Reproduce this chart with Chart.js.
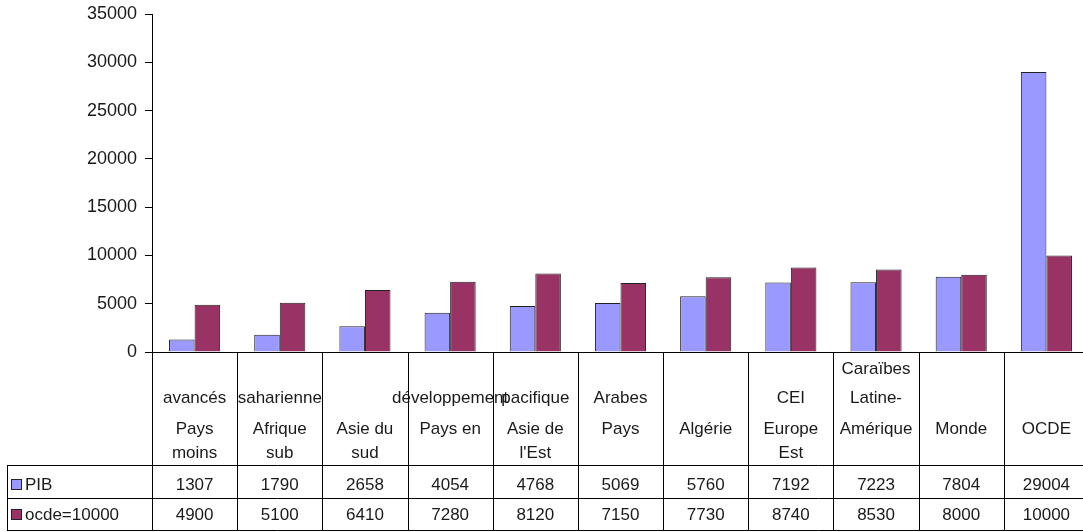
<!DOCTYPE html>
<html>
<head>
<meta charset="utf-8">
<script src="https://cdn.jsdelivr.net/npm/chart.js@4"></script>
<style>
  html, body { margin: 0; padding: 0; background: #fff; overflow: hidden; }
  #wrap { position: relative; width: 1090px; height: 532px; }
</style>
</head>
<body>
<div id="wrap"><canvas id="c"></canvas></div>
<script>
// ---- data ----
const categories = [
  "Pays moins avancés", "Afrique subsaharienne", "Asie du sud", "Pays en développement",
  "Asie de l'Est pacifique", "Pays Arabes", "Algérie", "Europe Est CEI",
  "Amérique Latine-Caraïbes", "Monde", "OCDE"
];
// label lines as displayed in the data-table header (4 text rows)
const categoryLines = [
  ["", "avancés", "Pays", "moins"],
  ["", "saharienne", "Afrique", "sub"],
  ["", "", "Asie du", "sud"],
  ["", "développement", "Pays en", ""],
  ["", "pacifique", "Asie de", "l'Est"],
  ["", "Arabes", "Pays", ""],
  ["", "", "Algérie", ""],
  ["", "CEI", "Europe", "Est"],
  ["Caraïbes", "Latine-", "Amérique", ""],
  ["", "", "Monde", ""],
  ["", "", "OCDE", ""]
];
const seriesNames = ["PIB", "ocde=10000"];
const pibValues = [1307, 1790, 2658, 4054, 4768, 5069, 5760, 7192, 7223, 7804, 29004];
const ocdeValues = [4900, 5100, 6410, 7280, 8120, 7150, 7730, 8740, 8530, 8000, 10000];
const yTicks = [0, 5000, 10000, 15000, 20000, 25000, 30000, 35000];

const colors = ["#9999FF", "#993366"];
const FAMILY = "'Liberation Sans', Arial, sans-serif";

const tablePlugin = {
  id: 'dataTable',
  afterDraw(chart) {
    const ctx = chart.ctx;
    const area = chart.chartArea;
    const n = categories.length;
    const w = (area.right - area.left) / n;
    const axisY = area.bottom;
    const row1 = axisY + 113, row2 = row1 + 33, bottom = row2 + 32;
    const tableLeft = 7;
    const lineYs = [axisY + 17, axisY + 46, axisY + 77, axisY + 101];
    ctx.save();
    ctx.strokeStyle = '#000';
    ctx.lineWidth = 1;
    ctx.beginPath();
    for (let i = 0; i <= n; i++) {
      const x = Math.round(area.left + i * w) + 0.5;
      ctx.moveTo(x, axisY);
      ctx.lineTo(x, bottom);
    }
    [row1, row2, bottom].forEach(y => {
      ctx.moveTo(tableLeft, y + 0.5);
      ctx.lineTo(area.right, y + 0.5);
    });
    ctx.moveTo(tableLeft + 0.5, row1);
    ctx.lineTo(tableLeft + 0.5, bottom);
    ctx.stroke();

    ctx.font = "17px " + FAMILY;
    ctx.fillStyle = '#1a1a1a';
    ctx.textAlign = 'center';
    ctx.textBaseline = 'middle';
    for (let i = 0; i < n; i++) {
      const cx = chart.scales.x.getPixelForValue(i);
      categoryLines[i].forEach((t, k) => { if (t) ctx.fillText(t, cx, lineYs[k]); });
      ctx.fillText(String(pibValues[i]), cx, row1 + 20);
      ctx.fillText(String(ocdeValues[i]), cx, row2 + 17);
    }
    // legend keys
    [[row1, 20], [row2, 17]].forEach(([ry, off], k) => {
      const sy = ry + off - 6;
      ctx.fillStyle = colors[k];
      ctx.fillRect(11, sy, 11, 11);
      ctx.strokeStyle = '#222';
      ctx.strokeRect(11.5, sy + 0.5, 10, 10);
      ctx.fillStyle = '#1a1a1a';
      ctx.textAlign = 'left';
      ctx.fillText(seriesNames[k], 25, ry + off);
    });
    ctx.restore();
  }
};

new Chart(document.getElementById('c'), {
  type: 'bar',
  data: {
    labels: categories,
    datasets: [
      { label: seriesNames[0], data: pibValues, backgroundColor: colors[0], borderColor: '#222', borderWidth: 1 },
      { label: seriesNames[1], data: ocdeValues, backgroundColor: colors[1], borderColor: '#222', borderWidth: 1 }
    ]
  },
  options: {
    responsive: true,
    maintainAspectRatio: false,
    animation: false,
    devicePixelRatio: 1,
    layout: { padding: { top: 14, right: 1, left: 0, bottom: 0 } },
    plugins: { legend: { display: false }, tooltip: { enabled: false } },
    datasets: { bar: { categoryPercentage: 0.6, barPercentage: 1.0 } },
    scales: {
      x: {
        grid: { display: false },
        border: { display: true, color: '#000', width: 1 },
        ticks: { display: false },
        afterFit(s) { s.height = 180; s.paddingLeft = 0; s.paddingRight = 0; }
      },
      y: {
        min: 0, max: 35000,
        afterBuildTicks(s) { s.ticks = yTicks.map(v => ({ value: v })); },
        grid: { drawOnChartArea: false, drawTicks: true, tickLength: 7, color: '#000' },
        border: { display: true, color: '#000', width: 1 },
        ticks: {
          color: '#1a1a1a', font: { family: FAMILY, size: 18 }, padding: 8,
          callback: (v) => String(v)
        },
        afterFit(s) { s.width = 152; s.paddingTop = 0; s.paddingBottom = 0; }
      }
    }
  },
  plugins: [tablePlugin]
});
</script>
</body>
</html>
